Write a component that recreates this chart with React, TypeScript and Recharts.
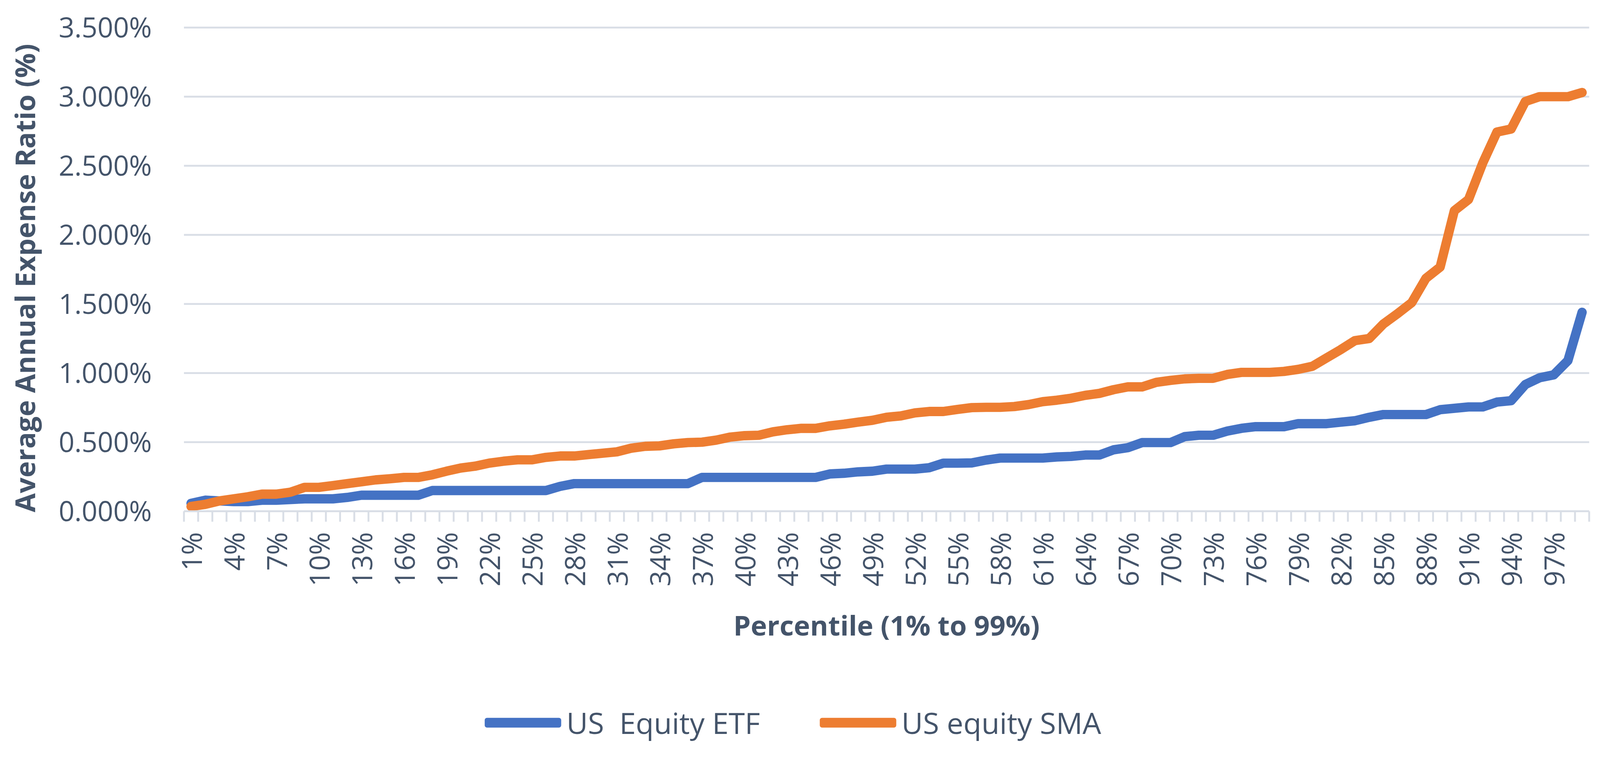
import React from 'react';
import { LineChart, Line, XAxis, YAxis, CartesianGrid, Legend, Label } from 'recharts';

const PERCENTILES = [
  '1%', '2%', '3%', '4%', '5%', '6%', '7%', '8%', '9%', '10%',
  '11%', '12%', '13%', '14%', '15%', '16%', '17%', '18%', '19%', '20%',
  '21%', '22%', '23%', '24%', '25%', '26%', '27%', '28%', '29%', '30%',
  '31%', '32%', '33%', '34%', '35%', '36%', '37%', '38%', '39%', '40%',
  '41%', '42%', '43%', '44%', '45%', '46%', '47%', '48%', '49%', '50%',
  '51%', '52%', '53%', '54%', '55%', '56%', '57%', '58%', '59%', '60%',
  '61%', '62%', '63%', '64%', '65%', '66%', '67%', '68%', '69%', '70%',
  '71%', '72%', '73%', '74%', '75%', '76%', '77%', '78%', '79%', '80%',
  '81%', '82%', '83%', '84%', '85%', '86%', '87%', '88%', '89%', '90%',
  '91%', '92%', '93%', '94%', '95%', '96%', '97%', '98%', '99%',
];

// every third percentile gets a label, like the Excel original
const LABELED_TICKS = [
  '1%', '4%', '7%', '10%', '13%', '16%', '19%', '22%', '25%', '28%', '31%', '34%',
  '37%', '40%', '43%', '46%', '49%', '52%', '55%', '58%', '61%', '64%', '67%',
  '70%', '73%', '76%', '79%', '82%', '85%', '88%', '91%', '94%', '97%',
];

// average annual expense ratio, in percent
const ETF_RATIO = [
  0.057, 0.08, 0.075, 0.07, 0.07, 0.08, 0.08, 0.085, 0.09, 0.09,
  0.09, 0.1, 0.116, 0.116, 0.116, 0.116, 0.116, 0.15, 0.15, 0.15,
  0.15, 0.15, 0.15, 0.15, 0.15, 0.15, 0.18, 0.2, 0.2, 0.2,
  0.2, 0.2, 0.2, 0.2, 0.2, 0.2, 0.245, 0.245, 0.245, 0.245,
  0.245, 0.245, 0.245, 0.245, 0.245, 0.27, 0.275, 0.285, 0.29, 0.305,
  0.305, 0.305, 0.315, 0.348, 0.348, 0.35, 0.37, 0.385, 0.385, 0.385,
  0.385, 0.393, 0.397, 0.407, 0.407, 0.445, 0.46, 0.497, 0.497, 0.497,
  0.54, 0.55, 0.55, 0.58, 0.6, 0.612, 0.612, 0.612, 0.634, 0.634,
  0.634, 0.645, 0.655, 0.68, 0.7, 0.7, 0.7, 0.7, 0.735, 0.745,
  0.755, 0.755, 0.79, 0.8, 0.917, 0.966, 0.987, 1.09, 1.44,
];

const SMA_RATIO = [
  0.035, 0.05, 0.075, 0.09, 0.105, 0.124, 0.124, 0.138, 0.173, 0.173,
  0.186, 0.2, 0.213, 0.227, 0.235, 0.245, 0.245, 0.264, 0.29, 0.313,
  0.326, 0.348, 0.362, 0.372, 0.372, 0.39, 0.4, 0.4, 0.41, 0.42,
  0.43, 0.456, 0.47, 0.473, 0.488, 0.497, 0.5, 0.515, 0.537, 0.547,
  0.55, 0.575, 0.59, 0.6, 0.6, 0.618, 0.63, 0.645, 0.658, 0.68,
  0.69, 0.712, 0.722, 0.722, 0.737, 0.75, 0.752, 0.752, 0.758, 0.772,
  0.793, 0.804, 0.818, 0.839, 0.853, 0.88, 0.9, 0.9, 0.933, 0.947,
  0.958, 0.962, 0.962, 0.99, 1.005, 1.005, 1.005, 1.012, 1.027, 1.049,
  1.11, 1.17, 1.235, 1.25, 1.355, 1.43, 1.51, 1.686, 1.767, 2.175,
  2.256, 2.52, 2.744, 2.766, 2.965, 3.0, 3.0, 3.0, 3.03,
];

const Y_TICKS = [0, 0.5, 1, 1.5, 2, 2.5, 3, 3.5];

const WIDTH = 4288;
const HEIGHT = 1998;
const BLUE = '#4472C4';
const ORANGE = '#ED7D31';
const TEXT = '#44546A';
const GRID = '#D9DEE6';
const FONT = '"Open Sans", "Segoe UI", sans-serif';
const FONT_SIZE = 74;
const HALF_BAND = 19; // half a category slot, points sit between tick marks

const chartData = PERCENTILES.map((p, i) => ({
  pct: p,
  etf: ETF_RATIO[i],
  sma: SMA_RATIO[i],
}));

function PercentileTick(props: any) {
  const { x, y, payload, index } = props;
  const showLabel = LABELED_TICKS.includes(payload.value);
  const isLast = index === PERCENTILES.length - 1;
  return (
    <g>
      <line x1={x - HALF_BAND} x2={x - HALF_BAND} y1={y} y2={y + 28} stroke={GRID} strokeWidth={5} />
      {isLast && (
        <line x1={x + HALF_BAND} x2={x + HALF_BAND} y1={y} y2={y + 28} stroke={GRID} strokeWidth={5} />
      )}
      {showLabel && (
        <text
          transform={`translate(${x},${y + 56}) rotate(-90)`}
          textAnchor="end"
          dominantBaseline="central"
          fill={TEXT}
          fontSize={FONT_SIZE}
          fontFamily={FONT}
        >
          {payload.value}
        </text>
      )}
    </g>
  );
}

function renderLegend(props: any) {
  const { payload } = props;
  return (
    <div
      style={{
        display: 'flex',
        alignItems: 'center',
        fontFamily: FONT,
        fontSize: 79,
        lineHeight: 1,
        color: TEXT,
      }}
    >
      {payload.map((entry: any, i: number) => (
        <div key={i} style={{ display: 'flex', alignItems: 'center', marginRight: i === 0 ? 160 : 0 }}>
          <span
            style={{
              display: 'inline-block',
              width: 205,
              height: 26,
              borderRadius: 6,
              background: entry.color,
              marginRight: 14,
            }}
          />
          <span style={{ whiteSpace: 'pre' }}>{entry.value}</span>
        </div>
      ))}
    </div>
  );
}

export default function App() {
  // the page viewport may be narrower than the reference size, so fit to it
  const vw = typeof window !== 'undefined' ? window.innerWidth : WIDTH;
  const scale = vw > 0 ? vw / WIDTH : 1;

  return (
    <div
      style={{
        position: 'absolute',
        left: 0,
        top: 0,
        width: WIDTH,
        height: HEIGHT,
        background: '#FFFFFF',
        transform: `scale(${scale})`,
        transformOrigin: '0 0',
      }}
    >
      <LineChart
        width={WIDTH}
        height={HEIGHT}
        data={chartData}
        margin={{ top: 74, right: 29, left: 0, bottom: 0 }}
      >
        <CartesianGrid vertical={false} stroke={GRID} strokeWidth={5} />
        <XAxis
          dataKey="pct"
          interval={0}
          height={627}
          padding={{ left: HALF_BAND, right: HALF_BAND }}
          axisLine={{ stroke: GRID, strokeWidth: 5 }}
          tickLine={false}
          tickSize={0}
          tickMargin={0}
          tick={<PercentileTick />}
        >
          <Label
            content={(p: any) => {
              const vb = p.viewBox;
              return (
                <text
                  x={vb.x + vb.width / 2}
                  y={vb.y + 305}
                  textAnchor="middle"
                  dominantBaseline="central"
                  fill={TEXT}
                  fontSize={FONT_SIZE}
                  fontWeight={700}
                  fontFamily={FONT}
                >
                  Percentile (1% to 99%)
                </text>
              );
            }}
          />
        </XAxis>
        <YAxis
          width={493}
          domain={[0, 3.5]}
          ticks={Y_TICKS}
          axisLine={false}
          tickLine={false}
          tickSize={0}
          tickMargin={86}
          tick={{ fill: TEXT, fontSize: FONT_SIZE, fontFamily: FONT }}
          tickFormatter={(v: number) => `${v.toFixed(3)}%`}
        >
          <Label
            content={(p: any) => {
              const vb = p.viewBox;
              const cx = vb.x + 65;
              const cy = vb.y + vb.height / 2 + 23;
              return (
                <text
                  x={cx}
                  y={cy}
                  transform={`rotate(-90 ${cx} ${cy})`}
                  textAnchor="middle"
                  dominantBaseline="central"
                  fill={TEXT}
                  fontSize={FONT_SIZE}
                  fontWeight={700}
                  fontFamily={FONT}
                >
                  Average Annual Expense Ratio (%)
                </text>
              );
            }}
          />
        </YAxis>
        <Legend
          verticalAlign="middle"
          align="center"
          content={renderLegend}
          wrapperStyle={{ left: 1299, top: 1898, width: 'auto' }}
        />
        <Line
          type="linear"
          dataKey="etf"
          name="US  Equity ETF"
          stroke={BLUE}
          strokeWidth={25}
          strokeLinejoin="round"
          strokeLinecap="round"
          dot={false}
          isAnimationActive={false}
        />
        <Line
          type="linear"
          dataKey="sma"
          name="US equity SMA"
          stroke={ORANGE}
          strokeWidth={25}
          strokeLinejoin="round"
          strokeLinecap="round"
          dot={false}
          isAnimationActive={false}
        />
      </LineChart>
    </div>
  );
}
